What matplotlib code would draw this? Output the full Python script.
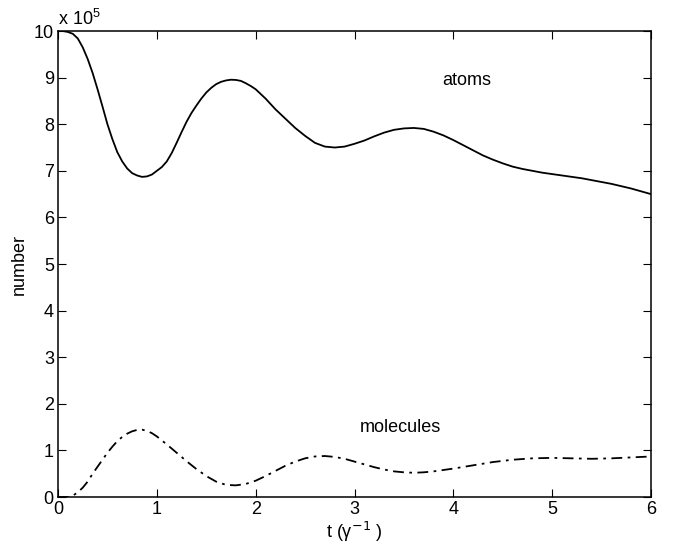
import numpy as np
import matplotlib
matplotlib.use("Agg")
import matplotlib.pyplot as plt

plt.rcParams['font.family'] = ['Liberation Sans', 'DejaVu Sans']
plt.rcParams['mathtext.fontset'] = 'custom'
plt.rcParams['mathtext.rm'] = 'Liberation Sans'
plt.rcParams['mathtext.it'] = 'Liberation Sans'

# atoms (x 1e5)
t_atoms = [0.0, 0.05, 0.1, 0.15, 0.2, 0.25, 0.3, 0.35, 0.4, 0.45,
           0.5, 0.55, 0.6, 0.65, 0.7, 0.75, 0.8, 0.85, 0.9, 0.95,
           1.0, 1.05, 1.1, 1.15, 1.2, 1.25, 1.3, 1.35, 1.4, 1.45,
           1.5, 1.55, 1.6, 1.65, 1.7, 1.75, 1.8, 1.85, 1.9, 1.95,
           2.0, 2.1, 2.2, 2.3, 2.4, 2.5, 2.6, 2.7, 2.8, 2.9,
           3.0, 3.1, 3.2, 3.3, 3.4, 3.5, 3.6, 3.7, 3.8, 3.9,
           4.0, 4.1, 4.2, 4.3, 4.4, 4.5, 4.6, 4.7, 4.8, 4.9,
           5.0, 5.1, 5.2, 5.3, 5.4, 5.5, 5.6, 5.7, 5.8, 5.9, 6.0]
atoms = [10.0, 10.0, 9.98, 9.94, 9.84, 9.65, 9.4, 9.1, 8.75, 8.38,
         8.0, 7.68, 7.4, 7.2, 7.05, 6.95, 6.9, 6.87, 6.88, 6.92,
         7.0, 7.08, 7.2, 7.38, 7.6, 7.83, 8.05, 8.24, 8.4, 8.55,
         8.68, 8.78, 8.86, 8.91, 8.94, 8.955, 8.95, 8.93, 8.88, 8.82,
         8.75, 8.55, 8.32, 8.12, 7.92, 7.75, 7.6, 7.52, 7.5, 7.52,
         7.58, 7.65, 7.74, 7.82, 7.88, 7.91, 7.92, 7.9, 7.84, 7.76,
         7.66, 7.55, 7.44, 7.33, 7.24, 7.16, 7.09, 7.04, 7.0, 6.96,
         6.93, 6.9, 6.87, 6.84, 6.8, 6.76, 6.72, 6.67, 6.62, 6.56, 6.5]

# molecules (x 1e5)
t_mol = [0.0, 0.1, 0.15, 0.2, 0.25, 0.3, 0.35, 0.4, 0.45, 0.5,
         0.55, 0.6, 0.65, 0.7, 0.75, 0.8, 0.85, 0.9, 0.95,
         1.0, 1.1, 1.2, 1.3, 1.4, 1.5, 1.6, 1.7, 1.8, 1.9,
         2.0, 2.1, 2.2, 2.3, 2.4, 2.5, 2.6, 2.7, 2.8, 2.9,
         3.0, 3.1, 3.2, 3.3, 3.4, 3.5, 3.6, 3.7, 3.8, 3.9,
         4.0, 4.2, 4.4, 4.6, 4.8, 5.0, 5.2, 5.4, 5.6, 5.8, 6.0]
molecules = [0.0, 0.0, 0.03, 0.1, 0.2, 0.33, 0.5, 0.65, 0.8, 0.95,
             1.08, 1.2, 1.29, 1.36, 1.41, 1.44, 1.445, 1.42, 1.37,
             1.3, 1.13, 0.95, 0.77, 0.6, 0.45, 0.33, 0.26, 0.25, 0.28,
             0.35, 0.45, 0.56, 0.67, 0.76, 0.83, 0.87, 0.88, 0.86, 0.82,
             0.76, 0.7, 0.64, 0.59, 0.55, 0.53, 0.52, 0.53, 0.55, 0.58,
             0.61, 0.68, 0.75, 0.8, 0.83, 0.84, 0.83, 0.82, 0.83, 0.85, 0.87]

fig = plt.figure(figsize=(6.77, 5.57), dpi=100)
ax = fig.add_axes([0.0857, 0.1077, 0.8759, 0.8366])

ax.plot(t_atoms, atoms, color='black', lw=1.3)
ax.plot(t_mol, molecules, color='black', lw=1.3, linestyle=(0, (6, 3, 1.5, 3)))

ax.text(4.14, 8.93, 'atoms', fontsize=13, ha='center', va='center')
ax.text(3.46, 1.5, 'molecules', fontsize=13, ha='center', va='center')

ax.set_xlim(0, 6)
ax.set_ylim(0, 10)
ax.set_xticks(range(0, 7))
ax.set_yticks(range(0, 11))
ax.tick_params(direction='in', top=True, right=True, labelsize=13, length=6, pad=3)
for s in ax.spines.values():
    s.set_linewidth(1.1)

ax.set_ylabel('number', fontsize=13, labelpad=4)
ax.set_xlabel(r't ($\gamma^{\mathsf{-1}}$ )', fontsize=13, labelpad=1)
ax.text(0.0, 1.005, r'x 10$^{5}$', transform=ax.transAxes, fontsize=13, ha='left', va='bottom')

fig.savefig('out.png', dpi=100)
